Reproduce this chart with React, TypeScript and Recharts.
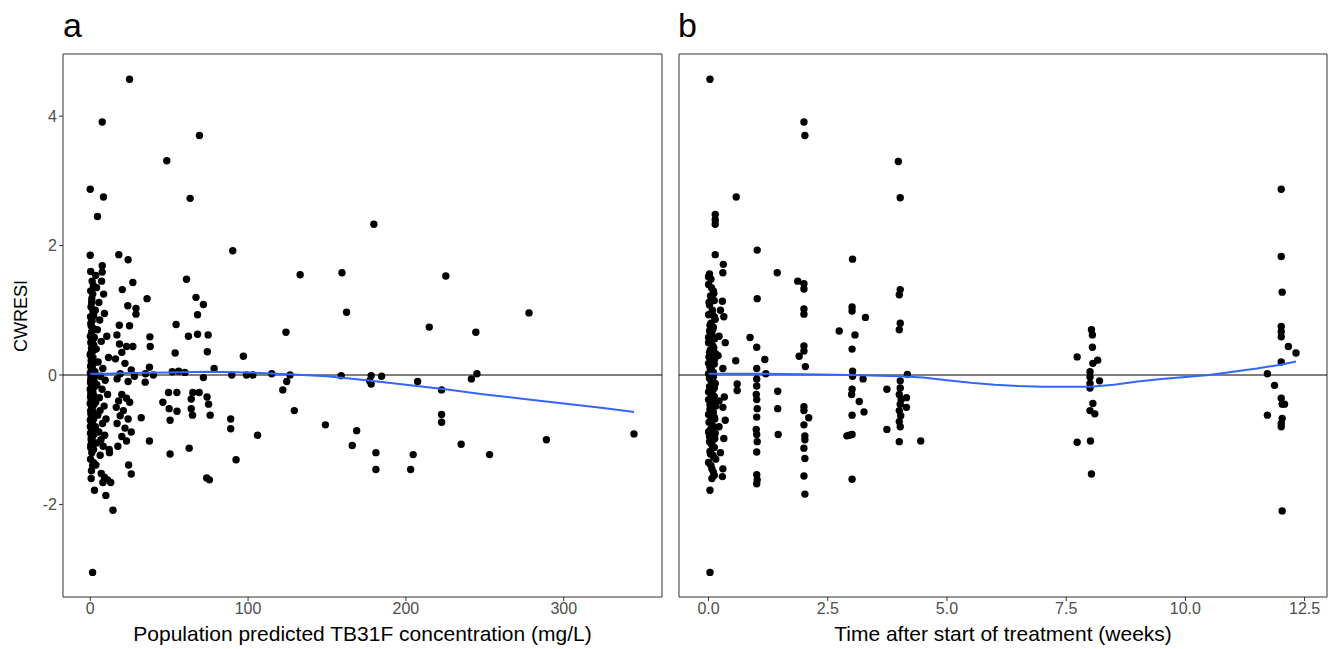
import React from 'react';
import { ScatterChart, Scatter, XAxis, YAxis, ReferenceLine, ReferenceArea } from 'recharts';

const FONT = '"Liberation Sans", Arial, Helvetica, sans-serif';

// ---------- Panel a: population predicted concentration (mg/L) vs CWRESI ----------
const aColumnLow: [number, number][] = [
  [0.3, 1.3], [1.0, 1.18], [0.5, 1.05], [1.8, 0.98], [0.2, 0.9], [1.2, 0.84], [0.6, 0.76], [2.0, 0.72],
  [0.9, 0.66], [0.1, 0.6], [1.5, 0.55], [0.4, 0.5], [2.3, 0.46], [0.8, 0.41], [1.1, 0.36], [0.0, 0.31],
  [1.7, 0.27], [0.6, 0.22], [2.1, 0.18], [0.3, 0.14], [1.3, 0.1], [0.7, 0.06], [0.1, 0.03], [1.9, 0.0],
  [0.5, -0.03], [1.0, -0.06], [2.4, -0.09], [0.2, -0.12], [1.4, -0.15], [0.8, -0.19], [0.0, -0.22],
  [1.6, -0.25], [0.4, -0.29], [2.2, -0.32], [1.1, -0.36], [0.6, -0.4], [0.0, -0.44], [1.8, -0.47],
  [0.9, -0.51], [0.3, -0.55], [1.5, -0.59], [2.5, -0.62], [0.7, -0.66], [0.1, -0.7], [1.2, -0.74],
  [0.5, -0.78], [2.0, -0.82], [0.9, -0.86], [0.2, -0.9], [1.4, -0.95], [0.6, -1.0], [1.0, -1.06],
  [0.3, -1.12], [2.0, -1.35], [0.8, -1.48], [1.6, 1.25], [0.9, 1.12], [2.2, 0.92], [0.4, 0.8],
  [1.4, 0.7], [2.6, 0.58], [0.7, 0.52], [1.9, 0.38], [0.2, 0.33], [1.0, 0.24], [2.4, 0.2], [0.5, 0.12],
  [1.6, 0.08], [0.9, 0.01], [2.1, -0.05], [0.3, -0.08], [1.2, -0.1], [2.6, -0.18], [0.6, -0.26],
  [1.9, -0.3], [0.2, -0.34], [1.3, -0.42], [2.5, -0.45], [0.8, -0.48], [1.7, -0.56], [0.4, -0.6],
  [2.2, -0.68], [1.0, -0.72], [0.1, -0.8], [1.6, -0.84], [2.4, -0.92], [0.7, -0.97], [1.3, -1.02],
  [0.4, -1.08], [2.1, -1.15], [1.0, -1.2], [0.2, -1.3], [1.5, -1.4], [0.6, -1.6], [1.2, 1.45],
  [0.3, 1.6], [2.0, 1.38], [0.0, 2.87], [0.0, 1.85], [4.6, 2.45], [8.4, 2.75], [7.6, 3.91],
  [3.5, 1.54], [7.6, 1.69], [7.6, 1.59], [7.2, 1.45], [4.0, 1.35], [8.5, 1.25], [5.5, 1.12], [3.2, 1.0],
  [9.0, 0.95], [6.0, 0.85], [4.5, 0.7], [10.5, 0.6], [7.0, 0.52], [3.8, 0.4], [11.6, 0.27], [5.0, 0.2],
  [8.0, 0.1], [3.0, 0.05], [6.5, -0.02], [9.5, -0.08], [4.2, -0.15], [7.5, -0.22], [11.0, -0.3],
  [5.8, -0.35], [3.5, -0.42], [8.8, -0.48], [6.2, -0.55], [4.8, -0.62], [10.0, -0.68], [7.8, -0.75],
  [3.3, -0.8], [5.5, -0.88], [9.2, -0.93], [6.8, -1.0], [4.0, -1.05], [8.2, -1.1], [12.0, -1.15],
  [6.3, -1.24], [12.2, -1.2], [3.6, -1.39], [7.0, -1.52], [9.0, -1.58], [11.0, -1.62], [13.0, -1.66],
  [8.0, -1.66], [2.7, -1.78], [9.9, -1.86], [14.4, -2.09], [1.5, -3.05],
];

const aColumnMid: [number, number][] = [
  [24.9, 4.57], [18.1, 1.86], [24.0, 1.78], [20.3, 1.32], [27.0, 1.43], [23.8, 1.07], [29.0, 1.03],
  [29.0, 0.94], [18.4, 0.77], [24.9, 0.76], [16.9, 0.62], [18.5, 0.48], [23.0, 0.44], [27.0, 0.44],
  [20.0, 0.35], [16.0, 0.25], [22.0, 0.18], [26.0, 0.08], [19.0, 0.02], [28.0, -0.02], [17.0, -0.06],
  [24.0, -0.1], [20.0, -0.3], [23.0, -0.36], [18.0, -0.4], [25.0, -0.42], [16.5, -0.5], [21.0, -0.55],
  [19.0, -0.63], [24.0, -0.68], [17.0, -0.75], [22.0, -0.82], [26.0, -0.88], [20.0, -0.95],
  [23.0, -1.02], [17.5, -1.1], [24.3, -1.39], [26.0, -1.53], [36.0, 1.18], [37.8, 0.59], [38.0, 0.44],
  [37.5, 0.12], [34.8, -0.11], [32.3, -0.66], [37.5, -1.02], [35.0, 0.02], [40.0, 0.0],
];

const aColumnHigh: [number, number][] = [
  [48.5, 3.31], [69.2, 3.7], [63.3, 2.73], [61.0, 1.48], [67.0, 1.2], [71.7, 1.09], [68.0, 0.93],
  [54.4, 0.78], [62.2, 0.6], [68.0, 0.63], [74.7, 0.62], [53.8, 0.34], [74.2, 0.36], [78.5, 0.1],
  [52.0, 0.05], [56.0, 0.06], [60.0, 0.04], [71.7, -0.04], [49.6, -0.27], [54.9, -0.27], [65.0, -0.27],
  [69.0, -0.27], [46.0, -0.42], [50.0, -0.52], [55.0, -0.56], [64.0, -0.37], [64.0, -0.52], [64.8, -0.62],
  [74.0, -0.34], [75.0, -0.45], [76.0, -0.62], [50.6, -0.7], [62.7, -1.13], [50.6, -1.22], [73.8, -1.59],
  [75.5, -1.62], [90.3, 1.92], [97.0, 0.29], [89.7, 0.0], [99.0, 0.0], [103.0, 0.0], [115.0, 0.02],
  [126.6, 0.0], [89.0, -0.68], [89.0, -0.83], [92.4, -1.31], [106.0, -0.93], [124.0, 0.66], [133.0, 1.55],
  [124.5, -0.1], [122.0, -0.23], [129.3, -0.55], [159.5, 1.58], [162.4, 0.97], [149.0, -0.77],
  [168.8, -0.86], [166.0, -1.09], [159.0, -0.01], [178.0, -0.01], [178.0, -0.14], [179.7, 2.33],
  [181.0, -1.2], [181.0, -1.46], [184.6, -0.02], [225.3, 1.53], [278.0, 0.96], [214.8, 0.74],
  [244.3, 0.66], [207.4, -0.1], [222.6, -0.23], [241.5, -0.06], [245.0, 0.02], [222.6, -0.61],
  [222.6, -0.73], [235.0, -1.07], [253.0, -1.23], [289.0, -1.0], [344.5, -0.91], [204.6, -1.23],
  [203.0, -1.46], [177.0, -0.09],
];

const aSmooth: [number, number][] = [
  [0, 0.02], [10, 0.02], [25, 0.03], [50, 0.04], [75, 0.05], [100, 0.04], [125, 0.01], [150, -0.02],
  [175, -0.08], [200, -0.15], [225, -0.22], [250, -0.3], [275, -0.37], [300, -0.44], [325, -0.51],
  [344.5, -0.57],
];

// ---------- Panel b: time after start of treatment (weeks) vs CWRESI ----------
const bWeek0: [number, number][] = [
  [0.03, 4.57], [0.02, 1.56], [0.05, 1.48], [0.0, 1.4], [0.1, 1.3], [0.04, 1.22], [0.12, 1.15],
  [0.02, 1.08], [0.08, 1.0], [0.0, 0.93], [0.14, 0.86], [0.05, 0.8], [0.1, 0.74], [0.02, 0.68],
  [0.07, 0.62], [0.13, 0.56], [0.0, 0.5], [0.09, 0.45], [0.04, 0.39], [0.15, 0.33], [0.01, 0.28],
  [0.08, 0.22], [0.12, 0.17], [0.03, 0.12], [0.06, 0.07], [0.0, 0.02], [0.1, -0.03], [0.05, -0.08],
  [0.14, -0.13], [0.02, -0.18], [0.09, -0.23], [0.04, -0.28], [0.12, -0.33], [0.0, -0.38], [0.07, -0.43],
  [0.15, -0.48], [0.03, -0.53], [0.1, -0.58], [0.06, -0.63], [0.13, -0.68], [0.01, -0.73], [0.08, -0.78],
  [0.04, -0.84], [0.14, -0.9], [0.02, -0.95], [0.1, -1.0], [0.06, -1.06], [0.12, -1.12], [0.03, -1.18],
  [0.09, -1.24], [0.15, -1.3], [0.05, -1.4], [0.1, -1.5], [0.07, -1.6], [0.03, -1.78], [0.03, -3.05],
  [0.0, 1.52], [0.06, 1.35], [0.11, 1.26], [0.01, 1.12], [0.07, 0.96], [0.12, 0.9], [0.03, 0.77],
  [0.09, 0.7], [0.0, 0.58], [0.05, 0.52], [0.11, 0.42], [0.02, 0.35], [0.07, 0.3], [0.13, 0.25],
  [0.0, 0.18], [0.05, 0.1], [0.1, 0.04], [0.02, -0.05], [0.08, -0.1], [0.12, -0.2], [0.0, -0.26],
  [0.06, -0.35], [0.11, -0.4], [0.03, -0.46], [0.08, -0.55], [0.0, -0.61], [0.12, -0.65], [0.05, -0.7],
  [0.09, -0.82], [0.0, -0.88], [0.06, -0.92], [0.13, -0.98], [0.02, -1.03], [0.08, -1.1], [0.04, -1.22],
  [0.11, -1.27], [0.0, -1.35], [0.07, -1.45], [0.12, -1.55], [0.14, 2.48], [0.14, 2.4], [0.14, 2.33],
  [0.14, 1.86], [0.31, 1.71], [0.29, 1.14], [0.3, 1.58], [0.32, 0.9], [0.35, 0.5], [0.3, 0.1],
  [0.33, -0.34], [0.3, -0.5], [0.35, -0.7], [0.32, -0.98], [0.3, -1.45], [0.29, -1.57], [0.25, -1.2],
  [0.22, -0.8], [0.22, 0.6], [0.25, 1.0], [0.2, 0.3], [0.22, -0.4], [0.58, 2.75], [0.57, 0.22],
  [0.6, -0.14], [0.6, -0.24],
];

const bWeek1: [number, number][] = [
  [1.02, 1.93], [1.02, 1.18], [0.87, 0.58], [1.01, 0.43], [1.01, 0.1], [1.18, 0.24], [1.2, 0.02],
  [1.44, 1.58], [1.01, -0.06], [1.01, -0.17], [1.0, -0.3], [1.01, -0.38], [1.02, -0.52], [1.01, -0.65],
  [1.0, -0.84], [1.01, -0.92], [1.02, -1.03], [1.01, -1.19], [1.01, -1.54], [1.02, -1.62],
  [1.01, -1.68], [1.45, -0.25], [1.45, -0.52], [1.46, -0.92],
];

const bWeek2: [number, number][] = [
  [2.0, 3.91], [2.02, 3.7], [1.87, 1.45], [2.0, 1.41], [2.0, 1.33], [2.0, 1.02], [2.0, 0.94],
  [2.0, 0.45], [2.0, 0.37], [1.9, 0.29], [2.03, 0.13], [2.0, -0.49], [2.1, -0.66], [2.0, -0.77],
  [2.02, -0.94], [2.0, -1.13], [2.02, -1.29], [2.0, -1.56], [2.02, -1.84], [2.0, -0.55], [2.02, -1.0],
];

const bWeek3: [number, number][] = [
  [3.02, 1.79], [3.01, 1.05], [3.01, 0.99], [3.29, 0.89], [2.74, 0.68], [3.07, 0.62], [3.01, 0.4],
  [3.02, 0.06], [3.02, -0.02], [3.24, -0.06], [3.01, -0.22], [3.01, -0.62], [3.16, -0.41],
  [3.26, -0.57], [2.9, -0.94], [3.01, -0.92], [2.95, -0.93], [3.01, -1.61], [3.0, -0.3],
];

const bWeek4: [number, number][] = [
  [3.98, 3.3], [4.02, 2.74], [4.02, 1.32], [4.0, 1.24], [4.02, 0.8], [4.0, 0.7], [4.17, 0.01],
  [4.02, -0.09], [3.74, -0.22], [3.74, -0.84], [4.02, -0.2], [4.0, -0.3], [4.04, -0.38], [4.02, -0.45],
  [4.0, -0.55], [4.03, -0.63], [4.0, -0.72], [4.02, -0.8], [4.0, -1.03], [4.45, -1.02], [4.15, -0.35],
  [4.15, -0.5],
];

const bWeek8: [number, number][] = [
  [8.03, 0.7], [8.05, 0.62], [8.05, 0.43], [7.73, 0.28], [8.06, 0.18], [8.16, 0.23], [8.0, 0.05],
  [8.0, -0.03], [8.2, -0.09], [8.0, -0.13], [8.0, -0.2], [8.06, -0.44], [8.0, -0.55], [8.1, -0.6],
  [8.01, -1.02], [7.73, -1.04], [8.03, -1.53],
];

const bWeek12: [number, number][] = [
  [12.01, 2.87], [12.01, 1.83], [12.03, 1.28], [12.01, 0.75], [12.01, 0.67], [12.01, 0.59],
  [12.16, 0.44], [12.32, 0.34], [12.01, 0.2], [11.72, 0.02], [11.87, -0.16], [12.01, -0.36],
  [12.03, -0.45], [12.08, -0.45], [11.72, -0.62], [12.03, -0.67], [12.01, -0.75], [12.01, -0.8],
  [12.03, -2.1],
];

const bSmooth: [number, number][] = [
  [0, 0.02], [1, 0.02], [2, 0.01], [3, 0.0], [4, -0.02], [4.5, -0.04], [5, -0.08], [5.5, -0.12],
  [6, -0.15], [6.5, -0.17], [7, -0.18], [8, -0.18], [8.5, -0.15], [9, -0.1], [9.5, -0.06], [10, -0.03],
  [10.5, 0.0], [11, 0.05], [11.5, 0.1], [12, 0.16], [12.32, 0.21],
];

// ---------- axes ----------
const yTicks = [-2, 0, 2, 4];
const yDomain: [number, number] = [-3.43, 4.96];
const aTicks = [0, 100, 200, 300];
const aDomain: [number, number] = [-17.25, 362.25];
const bTicks = [0, 2.5, 5, 7.5, 10, 12.5];
const bDomain: [number, number] = [-0.62, 12.97];

const toPts = (arr: [number, number][]) => arr.map(([x, y]) => ({ x, y }));

const Dot = (props: any) => <circle cx={props.cx} cy={props.cy} r={3.7} fill="#000" />;
const NoDot = () => <g />;

const tickStyle = { fill: '#4D4D4D', fontSize: 16, fontFamily: FONT };
const titleStyle = { fill: '#000', fontSize: 21, fontFamily: FONT };

export default function App() {
  const aAll = [...aColumnLow, ...aColumnMid, ...aColumnHigh];
  const bAll = [...bWeek0, ...bWeek1, ...bWeek2, ...bWeek3, ...bWeek4, ...bWeek8, ...bWeek12];
  return (
    <div style={{ position: 'absolute', left: 0, top: 0, width: 1341, height: 649, background: '#fff', fontFamily: FONT }}>
      <div style={{ position: 'absolute', left: 0, top: 0 }}>
        <ScatterChart width={670} height={649} margin={{ top: 54, right: 8, bottom: 0, left: 0 }}>
          <XAxis
            type="number" dataKey="x" domain={aDomain} ticks={aTicks} allowDataOverflow
            height={52} axisLine={false} tickSize={4} tickLine={{ stroke: '#333' }} tick={tickStyle}
            label={{ value: 'Population predicted TB31F concentration (mg/L)', position: 'insideBottom', offset: 8, ...titleStyle }}
          />
          <YAxis
            type="number" dataKey="y" domain={yDomain} ticks={yTicks} allowDataOverflow
            width={63} axisLine={false} tickSize={4} tickLine={{ stroke: '#333' }} tick={tickStyle}
          />
          <ReferenceLine y={0} stroke="#000" strokeWidth={1} />
          <Scatter data={toPts(aAll)} shape={Dot} isAnimationActive={false} />
          <Scatter data={toPts(aSmooth)} shape={NoDot} line={{ stroke: '#3366FF', strokeWidth: 2 }} fill="none" stroke="#3366FF" isAnimationActive={false} />
          <ReferenceArea x1={aDomain[0]} x2={aDomain[1]} y1={yDomain[0]} y2={yDomain[1]} fill="none" fillOpacity={0} stroke="#333" strokeWidth={1} />
        </ScatterChart>
      </div>
      <div style={{ position: 'absolute', left: 670, top: 0 }}>
        <ScatterChart width={671} height={649} margin={{ top: 54, right: 14, bottom: 0, left: 0 }}>
          <XAxis
            type="number" dataKey="x" domain={bDomain} ticks={bTicks} allowDataOverflow
            height={52} axisLine={false} tickSize={4} tickLine={{ stroke: '#333' }} tick={tickStyle}
            tickFormatter={(v: number) => v.toFixed(1)}
            label={{ value: 'Time after start of treatment (weeks)', position: 'insideBottom', offset: 8, ...titleStyle }}
          />
          <YAxis
            type="number" dataKey="y" domain={yDomain} ticks={yTicks} allowDataOverflow
            width={9} axisLine={false} tickSize={4} tickLine={{ stroke: '#333' }} tick={false}
          />
          <ReferenceLine y={0} stroke="#000" strokeWidth={1} />
          <Scatter data={toPts(bAll)} shape={Dot} isAnimationActive={false} />
          <Scatter data={toPts(bSmooth)} shape={NoDot} line={{ stroke: '#3366FF', strokeWidth: 2 }} fill="none" stroke="#3366FF" isAnimationActive={false} />
          <ReferenceArea x1={bDomain[0]} x2={bDomain[1]} y1={yDomain[0]} y2={yDomain[1]} fill="none" fillOpacity={0} stroke="#333" strokeWidth={1} />
        </ScatterChart>
      </div>
      <svg width={1341} height={649} style={{ position: 'absolute', left: 0, top: 0, pointerEvents: 'none' }}>
        <text x={63} y={37} fontSize={34} fontFamily={FONT} fill="#000">a</text>
        <text x={678} y={37} fontSize={34} fontFamily={FONT} fill="#000">b</text>
        <text x={27} y={316} fontSize={18} fontFamily={FONT} fill="#000" textAnchor="middle" transform="rotate(-90 27 316)">CWRESI</text>
      </svg>
    </div>
  );
}
